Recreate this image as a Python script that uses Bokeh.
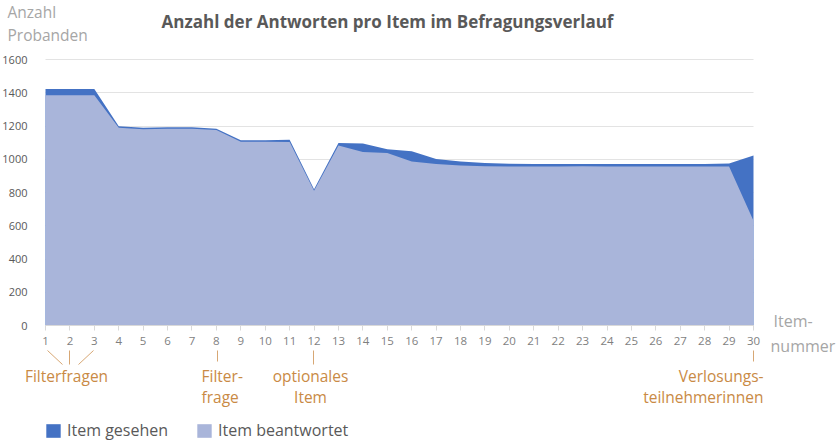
from bokeh.plotting import figure
from bokeh.models import (Label, Arrow, Legend, LegendItem, ColumnDataSource,
                          FixedTicker, Range1d)
from bokeh.embed import file_html
from bokeh.resources import INLINE

# ---- data ----
items = list(range(1, 31))
seen = [1422, 1422, 1422, 1198, 1189, 1192, 1192, 1184, 1115, 1115, 1118, 820,
        1098, 1094, 1060, 1048, 1002, 986, 978, 973, 971, 971, 972, 971, 971,
        971, 971, 972, 974, 1022]
answered = [1385, 1385, 1385, 1190, 1181, 1184, 1184, 1176, 1106, 1106, 1104, 810,
            1083, 1043, 1037, 986, 972, 962, 958, 957, 957, 957, 958, 957, 957,
            957, 957, 957, 957, 630]
y_ticks = [0, 200, 400, 600, 800, 1000, 1200, 1400, 1600]
title_text = "Anzahl der Antworten pro Item im Befragungsverlauf"
series_names = ["Item gesehen", "Item beantwortet"]

DARK = "#4472C4"
LIGHT = "#A9B5DA"
ORANGE = "#C98A45"
GRAY_LIGHT = "#A6A6A6"
FONT = "Open Sans"

W, H = 838, 445
# frame covers whole canvas; plot area x=1..30 spans 708 px, y=0..1600 spans 266 px
PX_X = 708 / 29.0
PX_Y = 266 / 1600.0
X0 = 1 - 45 / PX_X
Y0 = -(H - 325) / PX_Y

src = ColumnDataSource(dict(x=items, seen=seen, answered=answered,
                            zero=[0] * len(items)))

p = figure(width=W, height=H, output_backend="svg", toolbar_location=None,
           x_range=Range1d(X0, X0 + W / PX_X), y_range=Range1d(Y0, Y0 + H / PX_Y),
           min_border=0, min_border_left=0, min_border_right=0,
           min_border_top=0, min_border_bottom=0)
p.title.visible = False
p.outline_line_color = None
p.background_fill_color = "white"
p.border_fill_color = "white"

r_seen = p.varea(x="x", y1="zero", y2="seen", source=src, fill_color=DARK)
r_ans = p.varea(x="x", y1="zero", y2="answered", source=src, fill_color=LIGHT)

# grid
p.xgrid.grid_line_color = None
p.ygrid.grid_line_color = "#E3E3E3"
p.ygrid.ticker = FixedTicker(ticks=y_ticks[1:])
p.ygrid.cross_bounds = (1, 30)
p.ygrid.level = "underlay"

# y axis (fixed at x=1)
p.yaxis.fixed_location = 1
p.yaxis.ticker = FixedTicker(ticks=y_ticks)
p.yaxis.bounds = (0, 1600)
p.yaxis.axis_line_color = None
p.yaxis.major_tick_line_color = None
p.yaxis.minor_tick_line_color = None
p.yaxis.major_label_text_font = FONT
p.yaxis.major_label_text_font_size = "11px"
p.yaxis.major_label_text_color = "#595959"
p.yaxis.major_label_standoff = 12

# x axis (fixed at y=0)
p.xaxis.fixed_location = 0
p.xaxis.ticker = FixedTicker(ticks=items)
p.xaxis.bounds = (1, 30)
p.xaxis.axis_line_color = "#D9D9D9"
p.xaxis.major_tick_line_color = "#D9D9D9"
p.xaxis.major_tick_out = 5
p.xaxis.major_tick_in = 0
p.xaxis.minor_tick_line_color = None
p.xaxis.major_label_text_font = FONT
p.xaxis.major_label_text_font_size = "11.5px"
p.xaxis.major_label_text_color = "#7F7F7F"
p.xaxis.major_label_standoff = 6

# ---- texts (picture coordinates -> frame screen units) ----
def lab(sx, sy, text, size, color, align="left", bold=False):
    p.add_layout(Label(x=sx, y=H - sy, x_units="screen", y_units="screen",
                       text=text, text_font=FONT, text_font_size=size,
                       text_color=color, text_align=align, text_baseline="middle",
                       text_font_style="bold" if bold else "normal"))

lab(387, 21, title_text, "17px", "#595959", align="center", bold=True)
lab(7, 11, "Anzahl", "15.5px", GRAY_LIGHT)
lab(7, 34, "Probanden", "15.5px", GRAY_LIGHT)
lab(773, 320, "Item-", "16px", GRAY_LIGHT)
lab(770, 345, "nummer", "16px", GRAY_LIGHT)

# annotation texts below x axis (orange)
lab(66, 375, "Filterfragen", "15.5px", ORANGE, align="center")
lab(201, 375, "Filter-", "15.5px", ORANGE)
lab(201, 396, "frage", "15.5px", ORANGE)
lab(310, 375, "optionales", "15.5px", ORANGE, align="center")
lab(310, 396, "Item", "15.5px", ORANGE, align="center")
lab(763, 375, "Verlosungs-", "15.5px", ORANGE, align="right")
lab(763, 396, "teilnehmerinnen", "15.5px", ORANGE, align="right")

# leader lines (picture coords)
def seg(x0, y0, x1, y1):
    p.add_layout(Arrow(x_start=x0, y_start=H - y0, x_end=x1, y_end=H - y1,
                       start_units="screen", end_units="screen", end=None,
                       line_color=ORANGE, line_width=1, line_alpha=0.75))

seg(47, 350, 62, 364)
seg(69, 350, 69, 364)
seg(93, 350, 78, 364)
seg(217, 350, 217, 361)
seg(313, 350, 313, 364)
seg(753, 350, 753, 361)

# legend
legend = Legend(items=[LegendItem(label=series_names[0], renderers=[r_seen]),
                       LegendItem(label=series_names[1], renderers=[r_ans])],
                orientation="horizontal", location=(44, 4),
                label_text_font=FONT, label_text_font_size="16px",
                label_text_color="#595959", glyph_width=18, glyph_height=17,
                spacing=27, label_standoff=5, padding=0, margin=0,
                border_line_color=None, background_fill_alpha=0)
p.add_layout(legend, "center")

open("out.html", "w").write(file_html(p, INLINE))
